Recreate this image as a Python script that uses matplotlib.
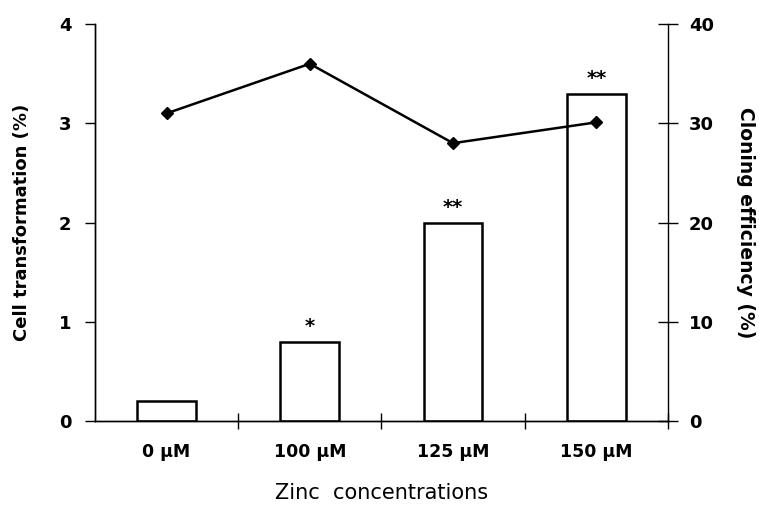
import numpy as np
import matplotlib.pyplot as plt

# zinc concentration data
categories = ['0 µM', '100 µM', '125 µM', '150 µM']
transformation = [0.2, 0.8, 2.0, 3.3]      # left axis, bars
cloning = [31.0, 36.0, 28.0, 30.1]          # right axis, line
stars = ['', '*', '**', '**']

fig = plt.figure(figsize=(7.59, 5.24), dpi=100)
ax = fig.add_axes([0.125, 0.1966, 0.755, 0.7574])
ax2 = ax.twinx()

x = np.arange(len(categories)) + 0.5
ax.bar(x, transformation, width=0.41, facecolor='white', edgecolor='black', linewidth=1.8, zorder=2)
for xi, v, s in zip(x, transformation, stars):
    if s:
        ax.text(xi, v + 0.06, s, ha='center', va='bottom', fontsize=14, fontweight='bold')

ax2.plot(x, cloning, color='black', linewidth=1.8, marker='D', markersize=6, zorder=3)

ax.set_xlim(0, 4)
ax.set_ylim(0, 4)
ax2.set_ylim(0, 40)
ax.set_yticks([0, 1, 2, 3, 4])
ax2.set_yticks([0, 10, 20, 30, 40])

ax.set_xticks([1, 2, 3, 4])
ax.set_xticklabels([])
ax.set_xticks(x, minor=True)
ax.set_xticklabels(categories, minor=True, fontsize=12.5, fontweight='bold')
ax.tick_params(axis='x', which='major', direction='inout', length=12, width=1)
ax.tick_params(axis='x', which='minor', length=0, pad=16)
ax.tick_params(axis='y', direction='out', length=7, width=1, labelsize=13, pad=10)
ax2.tick_params(axis='y', direction='inout', length=14, width=1, labelsize=13, pad=8)
for lab in ax.get_yticklabels() + ax2.get_yticklabels():
    lab.set_fontweight('bold')

for a in (ax, ax2):
    a.spines['top'].set_visible(False)
    for sp in ('left', 'right', 'bottom'):
        a.spines[sp].set_linewidth(1.0)
ax.spines['right'].set_visible(False)

ax.set_ylabel('Cell transformation (%)', fontsize=13, fontweight='bold', labelpad=20)
ax2.set_ylabel('Cloning efficiency (%)', fontsize=13.5, fontweight='bold', rotation=270, labelpad=30)
ax.set_xlabel('Zinc  concentrations', fontsize=15, labelpad=16)

fig.savefig('out.png', dpi=100)
